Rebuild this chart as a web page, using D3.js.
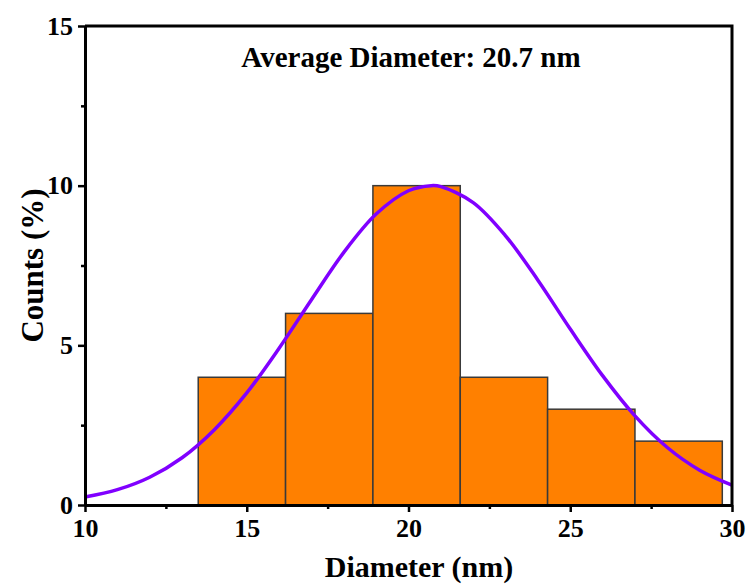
<!DOCTYPE html>
<html>
<head>
<meta charset="utf-8">
<script src="https://cdn.jsdelivr.net/npm/d3@7"></script>
<style>
  body { margin: 0; background: #fff; }
  text { font-family: "Liberation Serif", "Times New Roman", serif; font-weight: bold; fill: #000; }
</style>
</head>
<body>
<div id="chart"></div>
<script>
      // histogram bins (nm) and counts (%)
      var binEdges = [13.5, 16.2, 18.9, 21.6, 24.3, 27.0, 29.7];
      var binCounts = [4, 6, 10, 4, 3, 2];

      // fitted curve, points
      var fitX = [10, 11, 12, 13, 14, 15, 16, 17, 18, 19, 20, 20.7, 21, 22, 23, 24, 25, 26, 27, 28, 29, 30];
      var fitY = [0.25, 0.48, 0.87, 1.48, 2.36, 3.51, 4.91, 6.43, 7.91, 9.11, 9.84, 10, 9.97, 9.47, 8.43, 7.04, 5.51, 4.05, 2.79, 1.80, 1.09, 0.62];

      var xTicks = [10, 15, 20, 25, 30];
      var xMinor = [12.5, 17.5, 22.5, 27.5];
      var yTicks = [0, 5, 10, 15];
      var yMinor = [2.5, 7.5, 12.5];

      var titleText = "Average Diameter: 20.7 nm";
      var xLabel = "Diameter (nm)";
      var yLabel = "Counts (%)";

      var margin = {top: 26, right: 16, bottom: 83, left: 85};

      var width = 748 - margin.left - margin.right,
          height = 588 - margin.top - margin.bottom;

      var svg = d3.select("#chart").append("svg")
                .attr("width", 748)
                .attr("height", 588);

      var canvas = svg.append("g")
                .attr("transform", "translate(" + margin.left + "," + margin.top + ")");

      ////// Define Scales /////////////////
      var xScale = d3.scaleLinear()
          .domain([10, 30])
          .range([0, width]);
      var yScale = d3.scaleLinear()
          .domain([0, 15])
          .range([height, 0]);

      // bars
      var bars = binCounts.map(function(c, i) {
          return {x0: binEdges[i], x1: binEdges[i + 1], y: c};
      });

      canvas.append("g")
          .selectAll(".bar")
          .data(bars)
          .enter()
          .append("rect")
          .attr("class", "bar")
          .attr("x", function(d) { return xScale(d.x0); })
          .attr("width", function(d) { return xScale(d.x1) - xScale(d.x0); })
          .attr("y", function(d) { return yScale(d.y); })
          .attr("height", function(d) { return height - yScale(d.y); })
          .attr("fill", "#ff8000")
          .attr("stroke", "#3a3a3a")
          .attr("stroke-width", 1.5);

      // fit curve
      var fitData = fitX.map(function(x, i) { return {x: x, y: fitY[i]}; });

      var line = d3.line()
          .x(function(d) { return xScale(d.x); })
          .y(function(d) { return yScale(d.y); })
          .curve(d3.curveCatmullRom);

      canvas.append("path")
          .datum(fitData)
          .attr("d", line)
          .attr("fill", "none")
          .attr("stroke", "#8000ff")
          .attr("stroke-width", 3.5);

      /////// Axes //////////////////////////////
      var xAxis = d3.axisBottom(xScale).tickValues(xTicks).tickSize(7).tickSizeOuter(0).tickPadding(7);
      var yAxis = d3.axisLeft(yScale).tickValues(yTicks).tickSize(7).tickSizeOuter(0).tickPadding(5);

      var gx = canvas.append("g")
          .attr("class", "x axis")
          .attr("transform", "translate(0," + height + ")")
          .call(xAxis);
      var gy = canvas.append("g")
          .attr("class", "y axis")
          .call(yAxis);

      canvas.append("g")
          .attr("transform", "translate(0," + height + ")")
          .call(d3.axisBottom(xScale).tickValues(xMinor).tickSize(4).tickSizeOuter(0).tickFormat(""))
          .select(".domain").remove();
      canvas.append("g")
          .call(d3.axisLeft(yScale).tickValues(yMinor).tickSize(4).tickSizeOuter(0).tickFormat(""))
          .select(".domain").remove();

      canvas.selectAll(".tick line").attr("stroke", "#000").attr("stroke-width", 2.5);
      gx.select(".domain").attr("stroke-width", 3);
      gy.select(".domain").attr("stroke-width", 3);

      // top and right frame
      canvas.append("path")
          .attr("d", "M0,0H" + width + "V" + height)
          .attr("fill", "none")
          .attr("stroke", "#000")
          .attr("stroke-width", 3);

      canvas.selectAll(".axis text")
          .style("font-family", "'Liberation Serif', serif")
          .style("font-weight", "bold")
          .style("font-size", "26px")
          .attr("fill", "#000");

      // labels
      svg.append("text")
          .attr("x", 419)
          .attr("y", 577)
          .attr("text-anchor", "middle")
          .style("font-size", "30px")
          .text(xLabel);

      svg.append("text")
          .attr("transform", "translate(43," + (margin.top + height / 2) + ") rotate(-90)")
          .attr("text-anchor", "middle")
          .style("font-size", "31px")
          .text(yLabel);

      svg.append("text")
          .attr("x", 411)
          .attr("y", 67)
          .attr("text-anchor", "middle")
          .style("font-size", "29px")
          .text(titleText);
</script>
</body>
</html>
